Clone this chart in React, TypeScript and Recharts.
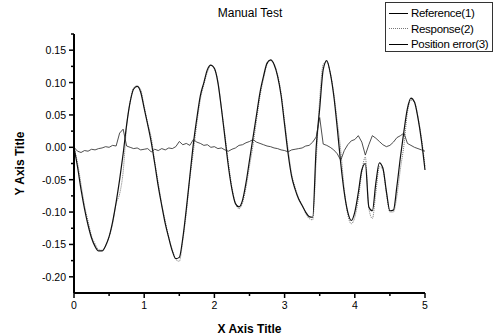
import { LineChart, Line, XAxis, YAxis, Label } from 'recharts';

const X_VALUES = [
  0, 0.05, 0.1, 0.15, 0.2, 0.25, 0.3, 0.35, 0.4, 0.45, 0.5, 0.55, 0.6, 0.65, 0.7, 0.75, 0.8, 0.85, 0.9, 0.95,
  1, 1.05, 1.1, 1.15, 1.2, 1.25, 1.3, 1.35, 1.4, 1.45, 1.5, 1.55, 1.6, 1.65, 1.7, 1.75, 1.8, 1.85, 1.9, 1.95,
  2, 2.05, 2.1, 2.15, 2.2, 2.25, 2.3, 2.35, 2.4, 2.45, 2.5, 2.55, 2.6, 2.65, 2.7, 2.75, 2.8, 2.85, 2.9, 2.95,
  3, 3.05, 3.1, 3.15, 3.2, 3.25, 3.3, 3.35, 3.4, 3.45, 3.5, 3.55, 3.6, 3.65, 3.7, 3.75, 3.8, 3.85, 3.9, 3.95,
  4, 4.05, 4.1, 4.15, 4.2, 4.25, 4.3, 4.35, 4.4, 4.45, 4.5, 4.55, 4.6, 4.65, 4.7, 4.75, 4.8, 4.85, 4.9, 4.95,
  5,
];

const REFERENCE = [
  0, -0.03, -0.065, -0.095, -0.12, -0.14, -0.153, -0.16, -0.16, -0.152, -0.138, -0.115, -0.085, -0.05, -0.01, 0.035, 0.07, 0.09, 0.094, 0.085,
  0.06, 0.035, 0.008, -0.025, -0.06, -0.09, -0.118, -0.14, -0.16, -0.172, -0.17, -0.14, -0.095, -0.045, 0.005, 0.045, 0.08, 0.1, 0.12, 0.127,
  0.122, 0.1, 0.06, 0.015, -0.03, -0.065, -0.087, -0.092, -0.082, -0.055, -0.02, 0.015, 0.05, 0.085, 0.11, 0.13, 0.135, 0.128, 0.11, 0.08,
  0.035, -0.01, -0.045, -0.065, -0.08, -0.09, -0.1, -0.107, -0.108, 0.0, 0.06, 0.12, 0.134, 0.115, 0.08, 0.03, -0.025, -0.07, -0.1, -0.113,
  -0.1, -0.07, -0.035, -0.025, -0.092, -0.098, -0.055, -0.024, -0.032, -0.068, -0.098, -0.097, -0.06, -0.015, 0.025, 0.06, 0.076, 0.07, 0.045, 0.01,
  -0.035,
];

const RESPONSE = [
  0, -0.024, -0.057, -0.09, -0.114, -0.137, -0.149, -0.158, -0.159, -0.153, -0.138, -0.118, -0.087, -0.072, -0.038, 0.033, 0.07, 0.092, 0.095, 0.089,
  0.063, 0.037, 0.015, -0.022, -0.055, -0.088, -0.114, -0.139, -0.158, -0.173, -0.176, -0.144, -0.101, -0.048, -0.007, 0.037, 0.074, 0.097, 0.116, 0.127,
  0.121, 0.102, 0.061, 0.019, -0.024, -0.062, -0.086, -0.095, -0.086, -0.062, -0.029, 0.003, 0.042, 0.079, 0.106, 0.128, 0.134, 0.129, 0.112, 0.084,
  0.04, -0.003, -0.041, -0.062, -0.078, -0.089, -0.102, -0.11, -0.112, -0.02, 0.075, 0.128, 0.132, 0.115, 0.084, 0.04, -0.005, -0.065, -0.104, -0.118,
  -0.108, -0.08, -0.038, -0.015, -0.094, -0.11, -0.07, -0.03, -0.034, -0.071, -0.1, -0.1, -0.075, -0.033, 0.003, 0.054, 0.073, 0.07, 0.047, 0.014,
  -0.029,
];

const POSITION_ERROR = [
  0, -0.006, -0.008, -0.005, -0.006, -0.003, -0.004, -0.002, -0.001, 0.001, 0, 0.003, 0.002, 0.022, 0.028, 0.002, 0, -0.002, -0.001, -0.004,
  -0.003, -0.002, -0.007, -0.003, -0.005, -0.002, -0.004, -0.001, -0.002, 0.001, 0.009, 0.004, 0.006, 0.003, 0.012, 0.008, 0.006, 0.003, 0.004, 0,
  0.001, -0.002, -0.001, -0.004, -0.006, -0.003, -0.001, 0.003, 0.004, 0.007, 0.009, 0.012, 0.008, 0.006, 0.004, 0.002, 0.001, -0.001, -0.002, -0.004,
  -0.005, -0.007, -0.004, -0.003, -0.002, -0.001, 0.002, 0.003, 0.008, 0.016, 0.046, 0.005, 0.003, 0, -0.004, -0.01, -0.02, -0.005, 0.004, 0.01,
  0.012, 0.018, 0.008, -0.012, 0.004, 0.018, 0.014, 0.009, 0.004, 0.001, 0.003, 0.008, 0.015, 0.018, 0.022, 0.006, 0.003, 0, -0.002, -0.004,
  -0.006,
];

const X_TICKS = [0, 0.5, 1, 1.5, 2, 2.5, 3, 3.5, 4, 4.5, 5];
const Y_TICKS = [-0.2, -0.175, -0.15, -0.125, -0.1, -0.075, -0.05, -0.025, 0, 0.025, 0.05, 0.075, 0.1, 0.125, 0.15, 0.175];
const LEGEND = ['Reference(1)', 'Response(2)', 'Position error(3)'];

const FONT = '"Liberation Sans", Arial, sans-serif';
const PLOT_LEFT = 74;
const PLOT_BOTTOM = 293;

const data = X_VALUES.map((x, i) => ({
  x,
  ref: REFERENCE[i],
  resp: RESPONSE[i],
  err: POSITION_ERROR[i],
}));

const isMajor = (v: number, step: number) => Math.abs(v / step - Math.round(v / step)) < 1e-6;

function YTick({ y, payload }: any) {
  const v = payload.value;
  const major = isMajor(v, 0.05);
  return (
    <g>
      <line x1={PLOT_LEFT - (major ? 5 : 3)} x2={PLOT_LEFT} y1={y} y2={y} stroke="#000" strokeWidth={1.5} />
      {major && (
        <text x={PLOT_LEFT - 8} y={y} dy={4} textAnchor="end" fontSize={10.5} fontFamily={FONT} fill="#000">
          {v.toFixed(2)}
        </text>
      )}
    </g>
  );
}

function XTick({ x, payload }: any) {
  const v = payload.value;
  const major = isMajor(v, 1);
  return (
    <g>
      <line x1={x} x2={x} y1={PLOT_BOTTOM} y2={PLOT_BOTTOM + (major ? 5 : 3)} stroke="#000" strokeWidth={1.5} />
      {major && (
        <text x={x} y={PLOT_BOTTOM + 16} textAnchor="middle" fontSize={10.5} fontFamily={FONT} fill="#000">
          {v}
        </text>
      )}
    </g>
  );
}

export default function App() {
  return (
    <div style={{ position: 'fixed', left: 0, top: 0, width: 493, height: 335, background: '#fff', fontFamily: FONT }}>
      <div style={{ position: 'absolute', left: 200, width: 100, top: 6, textAlign: 'center', fontSize: 12 }}>Manual Test</div>
      <div
        style={{
          position: 'absolute', left: 385, top: 2, width: 106, height: 48,
          border: '1px solid #333', background: '#fff', zIndex: 2,
        }}
      >
        {LEGEND.map((name, i) => (
          <div key={name} style={{ position: 'absolute', left: 3, top: 3 + i * 15.5, height: 14, display: 'flex', alignItems: 'center' }}>
            <div
              style={{
                width: 19,
                borderTop: i === 1 ? '1px dotted #777' : '1px solid #000',
                marginRight: 3,
              }}
            />
            <span style={{ fontSize: 11.5, letterSpacing: -0.3, whiteSpace: 'nowrap', color: '#000' }}>{name}</span>
          </div>
        ))}
      </div>
      <LineChart width={493} height={335} data={data} margin={{ top: 34, right: 68, left: 0, bottom: 0 }}>
        <XAxis
          dataKey="x"
          type="number"
          domain={[0, 5]}
          ticks={X_TICKS}
          interval={0}
          height={42}
          tickLine={false}
          axisLine={{ stroke: '#000', strokeWidth: 2 }}
          tick={<XTick />}
        >
          <Label value="X Axis Title" position="insideBottom" offset={2} fontSize={12} fontWeight="bold" fontFamily={FONT} fill="#000" />
        </XAxis>
        <YAxis
          type="number"
          domain={[-0.225, 0.175]}
          ticks={Y_TICKS}
          interval={0}
          width={74}
          tickLine={false}
          axisLine={{ stroke: '#000', strokeWidth: 2 }}
          tick={<YTick />}
          allowDataOverflow
        >
          <Label value="Y Axis Title" angle={-90} position="insideLeft" offset={20} fontSize={12} fontWeight="bold" fontFamily={FONT} fill="#000" style={{ textAnchor: 'middle' }} />
        </YAxis>
        <Line dataKey="resp" type="monotone" stroke="#777" strokeWidth={1} strokeDasharray="1 1" dot={false} isAnimationActive={false} />
        <Line dataKey="ref" type="monotone" stroke="#111" strokeWidth={1.2} dot={false} isAnimationActive={false} />
        <Line dataKey="err" type="linear" stroke="#222" strokeWidth={0.8} dot={false} isAnimationActive={false} />
      </LineChart>
    </div>
  );
}
